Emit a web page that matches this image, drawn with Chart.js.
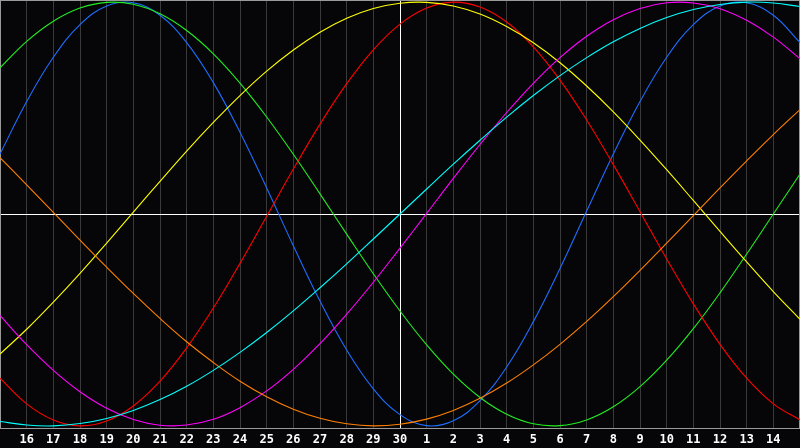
<!DOCTYPE html>
<html><head><meta charset="utf-8">
<script src="https://cdn.jsdelivr.net/npm/chart.js@4"></script>
<style>html,body{margin:0;padding:0;background:#060608;overflow:hidden}#wrap{width:800px;height:448px}</style>
</head><body><div id="wrap"><canvas id="c" width="800" height="448"></canvas></div>
<script>
// day index 0..30 (0 = the 15th of the previous month)
const days = [0,1,2,3,4,5,6,7,8,9,10,11,12,13,14,15,16,17,18,19,20,21,22,23,24,25,26,27,28,29,30];
const dayLabels = ['','16','17','18','19','20','21','22','23','24','25','26','27','28','29','30','1','2','3','4','5','6','7','8','9','10','11','12','13','14',''];

const physical = [0.283,0.531,0.740,0.894,0.982,0.997,0.938,0.809,0.620,0.386,0.123,-0.150,-0.411,-0.642,-0.825,-0.947,-0.999,-0.976,-0.881,-0.722,-0.508,-0.257,0.014,0.283,0.531,0.740,0.894,0.982,0.997,0.938,0.809];
const emotional = [-0.775,-0.896,-0.972,-1.000,-0.977,-0.906,-0.789,-0.632,-0.444,-0.233,-0.011,0.212,0.424,0.615,0.775,0.896,0.972,1.000,0.977,0.906,0.789,0.632,0.444,0.233,0.011,-0.212,-0.424,-0.615,-0.775,-0.896,-0.972];
const intellectual = [0.690,0.815,0.910,0.972,0.999,0.990,0.945,0.866,0.756,0.618,0.458,0.282,0.095,-0.095,-0.282,-0.458,-0.618,-0.756,-0.866,-0.945,-0.990,-0.999,-0.972,-0.910,-0.815,-0.690,-0.541,-0.372,-0.189,0.000,0.189];
const aesthetic = [-0.661,-0.544,-0.416,-0.280,-0.137,0.009,0.154,0.297,0.432,0.559,0.674,0.774,0.858,0.924,0.970,0.995,0.999,0.982,0.944,0.885,0.808,0.714,0.604,0.482,0.349,0.209,0.064,-0.082,-0.226,-0.366,-0.497];
const intuitive = [-0.479,-0.617,-0.738,-0.839,-0.917,-0.970,-0.997,-0.996,-0.969,-0.914,-0.835,-0.733,-0.612,-0.473,-0.322,-0.161,0.003,0.168,0.328,0.479,0.617,0.738,0.839,0.917,0.970,0.997,0.996,0.969,0.914,0.835,0.733];
const spiritual = [-0.979,-0.996,-1.000,-0.989,-0.965,-0.927,-0.876,-0.813,-0.738,-0.653,-0.559,-0.457,-0.348,-0.235,-0.118,0.000,0.118,0.235,0.348,0.457,0.559,0.653,0.738,0.813,0.876,0.927,0.965,0.989,1.000,0.996,0.979];
const awareness = [0.266,0.138,0.008,-0.123,-0.251,-0.375,-0.493,-0.603,-0.701,-0.789,-0.862,-0.921,-0.964,-0.990,-1.000,-0.992,-0.968,-0.927,-0.870,-0.798,-0.712,-0.615,-0.507,-0.390,-0.266,-0.138,-0.008,0.123,0.251,0.375,0.493];

const seriesList = [
  {name:'Spiritual', data: spiritual, color:'#00ffff'},
  {name:'Awareness', data: awareness, color:'#ff8000'},
  {name:'Intuitive', data: intuitive, color:'#ff00ff'},
  {name:'Aesthetic', data: aesthetic, color:'#ffff00'},
  {name:'Emotional', data: emotional, color:'#ff0000'},
  {name:'Intellectual', data: intellectual, color:'#22ee22'},
  {name:'Physical', data: physical, color:'#1e6eff'}
];

const bgPlugin = {
  id:'bg',
  beforeDraw(chart){
    const c = chart.ctx;
    c.save(); c.fillStyle = '#060608'; c.fillRect(0,0,chart.width,chart.height); c.restore();
  },
  beforeDatasetsDraw(chart){
    const c = chart.ctx, a = chart.chartArea;
    c.save();
    c.strokeStyle = '#9a9a9a'; c.lineWidth = 1;
    c.strokeRect(a.left+0.5, a.top+0.5, a.right-a.left-1, a.bottom-a.top);
    c.restore();
  }
};

new Chart(document.getElementById('c'), {
  type:'line',
  data:{
    datasets: seriesList.map(s => ({
      label: s.name,
      data: days.map((d,i) => ({x:d, y:s.data[i]})),
      borderColor: s.color,
      borderWidth: 1.1,
      pointRadius: 0,
      fill: false,
      tension: 0.4
    }))
  },
  options:{
    responsive:false,
    animation:false,
    events:[],
    layout:{autoPadding:false, padding:0},
    plugins:{legend:{display:false}, tooltip:{enabled:false}},
    scales:{
      x:{
        type:'linear', min:0, max:30,
        afterFit:(scale)=>{ scale.paddingLeft = 0; scale.paddingRight = 0; scale.height = 20; },
        ticks:{stepSize:1, autoSkip:false, maxRotation:0, padding:4.5, color:'#ffffff',
          font:{family:'"DejaVu Sans Mono", monospace', size:12, weight:'bold'},
          callback:(v)=> dayLabels[v] ?? ''},
        grid:{drawTicks:false, lineWidth:1,
          color:(ctx)=> (ctx.tick && ctx.tick.value===15) ? '#ffffff' : '#3a3a3a'},
        border:{display:false}
      },
      y:{
        min:-1.01, max:1.01,
        afterFit:(scale)=>{ scale.width = 0; },
        ticks:{display:false, stepSize:1},
        grid:{drawTicks:false, lineWidth:1,
          color:(ctx)=> (ctx.tick && ctx.tick.value===0) ? '#ffffff' : 'rgba(0,0,0,0)'},
        border:{display:false}
      }
    }
  },
  plugins:[bgPlugin]
});
</script>
</body></html>
